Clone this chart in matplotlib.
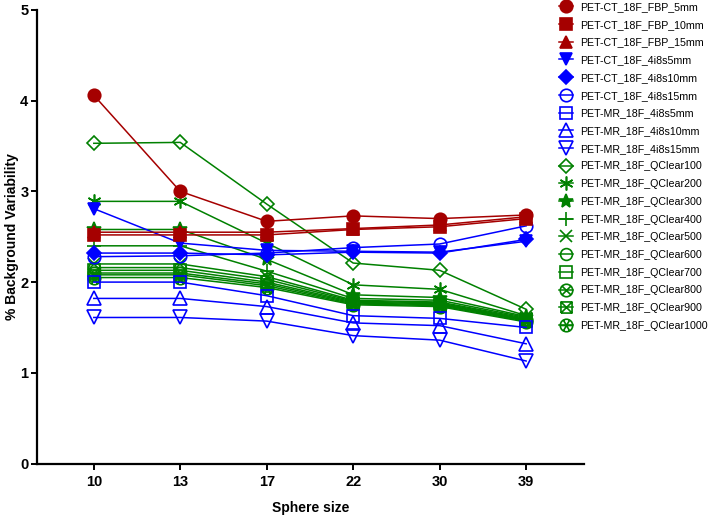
import numpy as np
import matplotlib
matplotlib.use("Agg")
import matplotlib.pyplot as plt
from matplotlib.path import Path

plt.rcParams['font.family'] = ['Liberation Sans', 'DejaVu Sans']

sphere_sizes = ["10", "13", "17", "22", "30", "39"]

# PET-CT FBP
ct_fbp_5mm = [4.06, 3.00, 2.67, 2.73, 2.70, 2.74]
ct_fbp_10mm = [2.52, 2.52, 2.52, 2.58, 2.61, 2.70]
ct_fbp_15mm = [2.55, 2.55, 2.55, 2.59, 2.63, 2.72]
# PET-CT OSEM
ct_4i8s5mm = [2.81, 2.43, 2.35, 2.34, 2.33, 2.45]
ct_4i8s10mm = [2.32, 2.32, 2.30, 2.33, 2.32, 2.47]
ct_4i8s15mm = [2.28, 2.29, 2.32, 2.38, 2.42, 2.62]
# PET-MR OSEM
mr_4i8s5mm = [2.00, 2.00, 1.85, 1.63, 1.60, 1.50]
mr_4i8s10mm = [1.82, 1.82, 1.73, 1.55, 1.52, 1.32]
mr_4i8s15mm = [1.61, 1.61, 1.57, 1.41, 1.36, 1.13]
# PET-MR Q.Clear
mr_qclear100 = [3.53, 3.54, 2.86, 2.21, 2.13, 1.70]
mr_qclear200 = [2.89, 2.89, 2.43, 1.97, 1.92, 1.63]
mr_qclear300 = [2.58, 2.58, 2.25, 1.86, 1.83, 1.62]
mr_qclear400 = [2.40, 2.40, 2.12, 1.82, 1.80, 1.61]
mr_qclear500 = [2.20, 2.20, 2.06, 1.80, 1.78, 1.60]
mr_qclear600 = [2.16, 2.16, 2.03, 1.79, 1.77, 1.59]
mr_qclear700 = [2.13, 2.13, 2.00, 1.78, 1.76, 1.58]
mr_qclear800 = [2.10, 2.10, 1.98, 1.77, 1.75, 1.58]
mr_qclear900 = [2.08, 2.08, 1.96, 1.76, 1.74, 1.57]
mr_qclear1000 = [2.05, 2.05, 1.94, 1.75, 1.73, 1.56]

labels = [
    "PET-CT_18F_FBP_5mm", "PET-CT_18F_FBP_10mm", "PET-CT_18F_FBP_15mm",
    "PET-CT_18F_4i8s5mm", "PET-CT_18F_4i8s10mm", "PET-CT_18F_4i8s15mm",
    "PET-MR_18F_4i8s5mm", "PET-MR_18F_4i8s10mm", "PET-MR_18F_4i8s15mm",
    "PET-MR_18F_QClear100", "PET-MR_18F_QClear200", "PET-MR_18F_QClear300",
    "PET-MR_18F_QClear400", "PET-MR_18F_QClear500", "PET-MR_18F_QClear600",
    "PET-MR_18F_QClear700", "PET-MR_18F_QClear800", "PET-MR_18F_QClear900",
    "PET-MR_18F_QClear1000",
]
series = [
    ct_fbp_5mm, ct_fbp_10mm, ct_fbp_15mm,
    ct_4i8s5mm, ct_4i8s10mm, ct_4i8s15mm,
    mr_4i8s5mm, mr_4i8s10mm, mr_4i8s15mm,
    mr_qclear100, mr_qclear200, mr_qclear300, mr_qclear400, mr_qclear500,
    mr_qclear600, mr_qclear700, mr_qclear800, mr_qclear900, mr_qclear1000,
]


# composite open markers (circle/square with crosses)
def circle_with(angles):
    circ = Path.unit_circle()
    parts = [circ]
    for a in angles:
        t = np.deg2rad(a)
        parts.append(Path([(np.cos(t), np.sin(t)), (-np.cos(t), -np.sin(t))],
                          [Path.MOVETO, Path.LINETO]))
    return Path.make_compound_path(*parts)


circle_x = circle_with([45, 135])
circle_star = circle_with([0, 60, 120])
square_x = Path.make_compound_path(
    Path([(-1, -1), (1, -1), (1, 1), (-1, 1), (-1, -1)],
         [Path.MOVETO] + [Path.LINETO] * 4),
    Path([(-1, -1), (1, 1)], [Path.MOVETO, Path.LINETO]),
    Path([(-1, 1), (1, -1)], [Path.MOVETO, Path.LINETO]),
)

red = "#A50000"
blue = "#0000FF"
green = "#008000"

# (colour, marker, filled, size)
styles = [
    (red, "o", True, 9), (red, "s", True, 8.5), (red, "^", True, 9),
    (blue, "v", True, 9), (blue, "D", True, 7), (blue, "o", False, 9),
    (blue, "s", False, 8.5), (blue, "^", False, 9.5), (blue, "v", False, 9.5),
    (green, "D", False, 7), (green, (6, 2, 0), False, 10), (green, "*", True, 10),
    (green, "+", False, 10), (green, "x", False, 9), (green, "o", False, 8.5),
    (green, "s", False, 8), (green, circle_x, False, 9), (green, square_x, False, 8),
    (green, circle_star, False, 9),
]

fig = plt.figure(figsize=(7.09, 5.16), dpi=100)
ax = fig.add_axes([0.0518, 0.1017, 0.772, 0.879])

x = np.arange(len(sphere_sizes))
n = len(series)
for i, (vals, lab, (col, mk, filled, ms)) in enumerate(zip(series, labels, styles)):
    ax.plot(x, vals, color=col, marker=mk, markersize=ms, linewidth=1.1,
            markerfacecolor=col if filled else "none", markeredgecolor=col,
            markeredgewidth=1.2, label=lab, zorder=3 + n - i, clip_on=False)

ax.set_xlim(-0.66, 5.67)
ax.set_ylim(0, 5)
ax.set_xticks(x)
ax.set_xticklabels(sphere_sizes)
ax.set_yticks([0, 1, 2, 3, 4, 5])
for s in ["top", "right"]:
    ax.spines[s].set_visible(False)
for s in ["left", "bottom"]:
    ax.spines[s].set_linewidth(1.6)
ax.tick_params(width=1.4, length=4, labelsize=10.5, pad=2)
ax.tick_params(axis="x", pad=4)
for t in ax.get_xticklabels() + ax.get_yticklabels():
    t.set_fontweight("bold")
ax.set_xlabel("Sphere size", fontsize=10, fontweight="bold", labelpad=9)
ax.set_ylabel("% Background Variability", fontsize=10, fontweight="bold", labelpad=1)

fig.legend(loc="upper left", bbox_to_anchor=(0.786, 1.0), frameon=False,
           fontsize=7.7, handlelength=1.3, handletextpad=0.6, labelspacing=0.72,
           borderpad=0.2, borderaxespad=0)

fig.savefig("out.png", dpi=100)
